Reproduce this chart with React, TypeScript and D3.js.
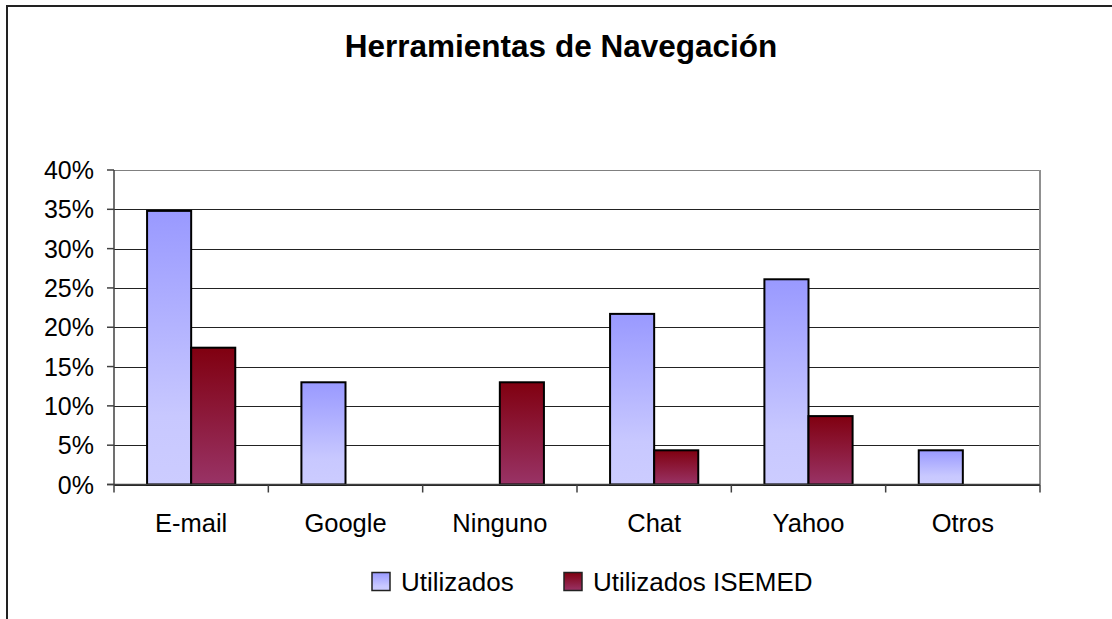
import React from "react";
import * as d3 from "d3";

const categories = ["E-mail", "Google", "Ninguno", "Chat", "Yahoo", "Otros"];
const seriesNames = ["Utilizados", "Utilizados ISEMED"];
const utilizados = [34.8, 13.0, 0, 21.7, 26.1, 4.35];
const utilizadosIsemed = [17.4, 0, 13.0, 4.35, 8.7, 0];
const yTicks = [0, 5, 10, 15, 20, 25, 30, 35, 40];
const title = "Herramientas de Navegación";

const W = 1112;
const H = 619;
const plot = { left: 114, right: 1040, top: 170, bottom: 484.5 };
const FONT = "Arial, 'Liberation Sans', Helvetica, sans-serif";

export default function App() {
  const x = d3
    .scaleBand<string>()
    .domain(categories)
    .range([plot.left, plot.right])
    .paddingInner(0)
    .paddingOuter(0);
  const y = d3.scaleLinear().domain([0, 40]).range([plot.bottom, plot.top]);
  const bw = x.bandwidth();
  const barW = bw / 3.5;
  const offset = (bw - 2 * barW) / 2;
  const series = [utilizados, utilizadosIsemed];
  const fills = ["url(#gradU)", "url(#gradI)"];

  const legendItems = [
    { x: 372, textX: 401 },
    { x: 564, textX: 593 },
  ];

  return (
    <svg
      width={W}
      height={H}
      style={{ position: "absolute", left: 0, top: 0, background: "#fff" }}
      fontFamily={FONT}
    >
      <defs>
        <linearGradient id="gradU" x1="0" y1="0" x2="0" y2="1">
          <stop offset="0%" stopColor="#9999FF" />
          <stop offset="75%" stopColor="#C8C8FF" />
          <stop offset="100%" stopColor="#CCCCFF" />
        </linearGradient>
        <linearGradient id="gradI" x1="0" y1="0" x2="0" y2="1">
          <stop offset="0%" stopColor="#800010" />
          <stop offset="100%" stopColor="#993366" />
        </linearGradient>
      </defs>
      <rect x={0} y={0} width={W} height={H} fill="#fff" />
      {/* outer chart border */}
      <rect x={7} y={6} width={1200} height={800} fill="none" stroke="#222" strokeWidth={2} />

      <text x={561} y={57} textAnchor="middle" fontSize={31.5} fontWeight="bold" fill="#000">
        {title}
      </text>

      {/* gridlines */}
      {yTicks.map((t) => (
        <line
          key={"g" + t}
          x1={plot.left}
          x2={plot.right}
          y1={Math.round(y(t)) + 0.5}
          y2={Math.round(y(t)) + 0.5}
          stroke={t === 40 ? "#808080" : "#222"}
          strokeWidth={1.2}
        />
      ))}
      {/* right plot border */}
      <line x1={plot.right} x2={plot.right} y1={plot.top} y2={plot.bottom} stroke="#909090" strokeWidth={2} />

      {/* bars */}
      {categories.map((c, i) =>
        series.map((s, j) => {
          const v = s[i];
          if (!v) return null;
          const bx = (x(c) as number) + offset + j * barW;
          return (
            <rect
              key={c + j}
              x={bx}
              y={y(v)}
              width={barW}
              height={y(0) - y(v)}
              fill={fills[j]}
              stroke="#000"
              strokeWidth={2}
            />
          );
        })
      )}

      {/* axes */}
      <line x1={plot.left} x2={plot.left} y1={plot.top} y2={plot.bottom} stroke="#404040" strokeWidth={1.5} />
      <line x1={plot.left - 7} x2={plot.right} y1={plot.bottom} y2={plot.bottom} stroke="#404040" strokeWidth={1.5} />
      {yTicks.map((t) => (
        <g key={"t" + t}>
          <line x1={plot.left - 7} x2={plot.left} y1={y(t)} y2={y(t)} stroke="#404040" strokeWidth={1.5} />
          <text x={94} y={y(t)} dy="0.36em" textAnchor="end" fontSize={25} fill="#000">
            {t + "%"}
          </text>
        </g>
      ))}
      {categories.map((c) => (
        <line
          key={"xt" + c}
          x1={x(c) as number}
          x2={x(c) as number}
          y1={plot.bottom}
          y2={plot.bottom + 8}
          stroke="#404040"
          strokeWidth={1.5}
        />
      ))}
      <line x1={plot.right} x2={plot.right} y1={plot.bottom} y2={plot.bottom + 8} stroke="#404040" strokeWidth={1.5} />
      {categories.map((c) => (
        <text
          key={"xl" + c}
          x={(x(c) as number) + bw / 2}
          y={531.5}
          textAnchor="middle"
          fontSize={25.5}
          fill="#000"
        >
          {c}
        </text>
      ))}

      {/* legend */}
      {seriesNames.map((n, j) => (
        <g key={"l" + n}>
          <rect
            x={legendItems[j].x}
            y={572.5}
            width={18}
            height={18}
            fill={fills[j]}
            stroke="#222"
            strokeWidth={1.5}
          />
          <text x={legendItems[j].textX} y={590.5} fontSize={26} fill="#000">
            {n}
          </text>
        </g>
      ))}
    </svg>
  );
}
